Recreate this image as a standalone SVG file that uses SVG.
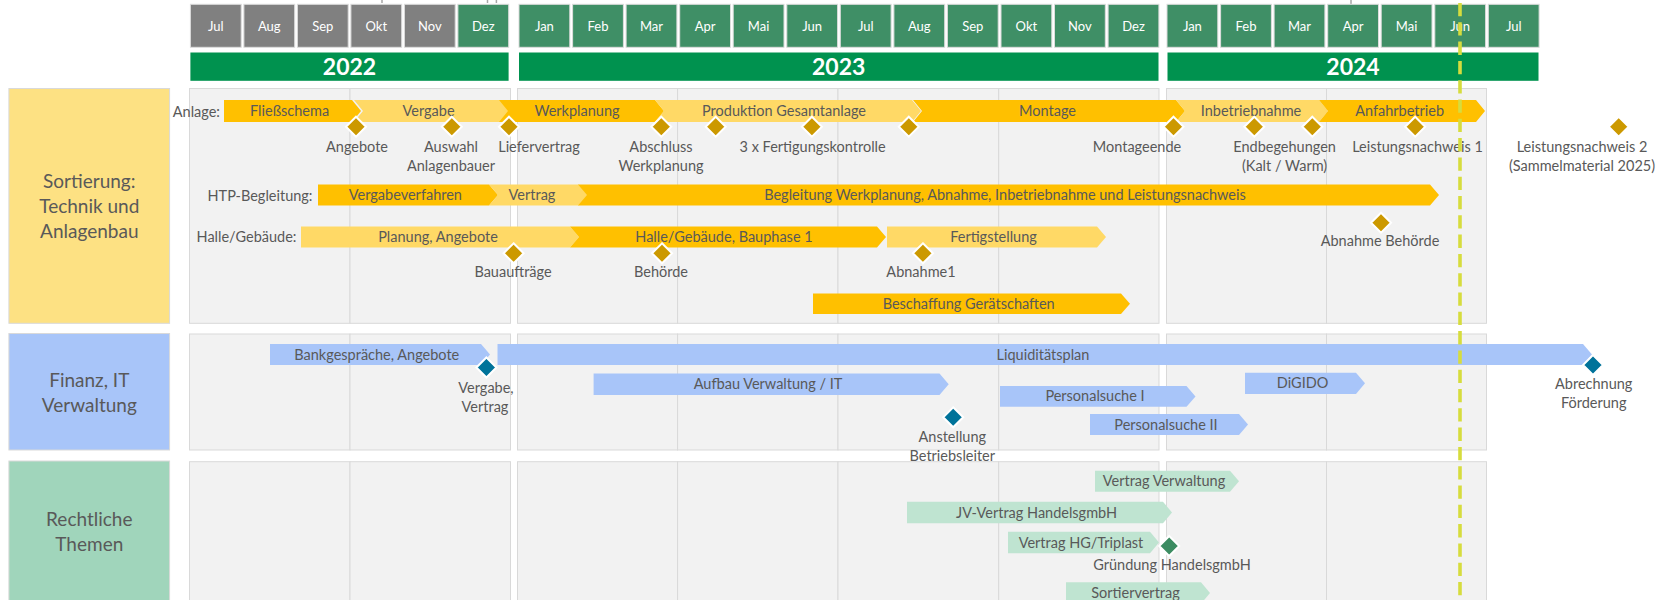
<svg xmlns="http://www.w3.org/2000/svg" xmlns:xlink="http://www.w3.org/1999/xlink" width="1676" height="600" viewBox="0 0 1676 600">
<style>
text{font-family:Lato,"Open Sans","Liberation Sans",sans-serif}
.mon{stroke:#dcdcdc;stroke-width:1}
.mg{fill:#808080}
.mgr{fill:#3f8f66}
.mt{font-size:13px;fill:#fff;text-anchor:middle}
.yr{fill:#00924f}
.yt{font-size:23px;font-weight:bold;fill:#fff;text-anchor:middle}
.pan{fill:#f2f2f2;stroke:#d9d9d9;stroke-width:1}
.dk{fill:#ffc000}
.lt{fill:#ffd966}
.bl{fill:#a8c5f9}
.gr{fill:#bfe4d1}
.t{font-size:14.5px;fill:#595959;text-anchor:middle}
.rl{font-size:14.5px;fill:#595959;text-anchor:end}
.hd{font-size:19px;fill:#595959;text-anchor:middle}
.dg{fill:#cc9900;stroke:#fff;stroke-width:2}
.db{fill:#00739a;stroke:#fff;stroke-width:2}
.dn{fill:#3c8c62;stroke:#fff;stroke-width:2}
.box{stroke:#d9d9d9;stroke-width:1}
</style>
<defs>
<polygon id="dia" points="0,-10 10,0 0,10 -10,0"/>
</defs>
<rect width="1676" height="600" fill="#fff"/>

<g id="top-ticks" stroke="#a6a6a6" stroke-width="1.5">
<line x1="382" y1="0" x2="382" y2="3"/>
<line x1="487.5" y1="0" x2="487.5" y2="3"/>
<line x1="496.4" y1="0" x2="496.4" y2="3"/>
<line x1="1351" y1="0" x2="1351" y2="4"/>
</g>

<g id="months">
<rect class="mon mg" x="190.4" y="4.3" width="50.8" height="43"/><text class="mt" x="215.8" y="30.5">Jul</text>
<rect class="mon mg" x="243.9" y="4.3" width="50.8" height="43"/><text class="mt" x="269.3" y="30.5">Aug</text>
<rect class="mon mg" x="297.4" y="4.3" width="50.8" height="43"/><text class="mt" x="322.8" y="30.5">Sep</text>
<rect class="mon mg" x="350.9" y="4.3" width="50.8" height="43"/><text class="mt" x="376.3" y="30.5">Okt</text>
<rect class="mon mg" x="404.4" y="4.3" width="50.8" height="43"/><text class="mt" x="429.8" y="30.5">Nov</text>
<rect class="mon mgr" x="457.9" y="4.3" width="50.8" height="43"/><text class="mt" x="483.3" y="30.5">Dez</text>

<rect class="mon mgr" x="519" y="4.3" width="50.8" height="43"/><text class="mt" x="544.4" y="30.5">Jan</text>
<rect class="mon mgr" x="572.6" y="4.3" width="50.8" height="43"/><text class="mt" x="598" y="30.5">Feb</text>
<rect class="mon mgr" x="626.1" y="4.3" width="50.8" height="43"/><text class="mt" x="651.5" y="30.5">Mar</text>
<rect class="mon mgr" x="679.7" y="4.3" width="50.8" height="43"/><text class="mt" x="705.1" y="30.5">Apr</text>
<rect class="mon mgr" x="733.2" y="4.3" width="50.8" height="43"/><text class="mt" x="758.6" y="30.5">Mai</text>
<rect class="mon mgr" x="786.8" y="4.3" width="50.8" height="43"/><text class="mt" x="812.2" y="30.5">Jun</text>
<rect class="mon mgr" x="840.3" y="4.3" width="50.8" height="43"/><text class="mt" x="865.7" y="30.5">Jul</text>
<rect class="mon mgr" x="893.9" y="4.3" width="50.8" height="43"/><text class="mt" x="919.3" y="30.5">Aug</text>
<rect class="mon mgr" x="947.4" y="4.3" width="50.8" height="43"/><text class="mt" x="972.8" y="30.5">Sep</text>
<rect class="mon mgr" x="1001" y="4.3" width="50.8" height="43"/><text class="mt" x="1026.4" y="30.5">Okt</text>
<rect class="mon mgr" x="1054.5" y="4.3" width="50.8" height="43"/><text class="mt" x="1079.9" y="30.5">Nov</text>
<rect class="mon mgr" x="1108.1" y="4.3" width="50.8" height="43"/><text class="mt" x="1133.5" y="30.5">Dez</text>

<rect class="mon mgr" x="1167" y="4.3" width="50.8" height="43"/><text class="mt" x="1192.4" y="30.5">Jan</text>
<rect class="mon mgr" x="1220.6" y="4.3" width="50.8" height="43"/><text class="mt" x="1246" y="30.5">Feb</text>
<rect class="mon mgr" x="1274.1" y="4.3" width="50.8" height="43"/><text class="mt" x="1299.5" y="30.5">Mar</text>
<rect class="mon mgr" x="1327.7" y="4.3" width="50.8" height="43"/><text class="mt" x="1353.1" y="30.5">Apr</text>
<rect class="mon mgr" x="1381.2" y="4.3" width="50.8" height="43"/><text class="mt" x="1406.6" y="30.5">Mai</text>
<rect class="mon mgr" x="1434.8" y="4.3" width="50.8" height="43"/><text class="mt" x="1460.2" y="30.5">Jun</text>
<rect class="mon mgr" x="1488.3" y="4.3" width="50.8" height="43"/><text class="mt" x="1513.7" y="30.5">Jul</text>
</g>

<g id="years">
<rect class="yr" x="190.4" y="52.5" width="318.2" height="28.3"/><text class="yt" x="349.5" y="75">2022</text>
<rect class="yr" x="519" y="52.5" width="639.5" height="28.3"/><text class="yt" x="838.7" y="75">2023</text>
<rect class="yr" x="1167.5" y="52.5" width="371" height="28.3"/><text class="yt" x="1353" y="75">2024</text>
</g>

<g id="panels">
<rect class="pan" x="189.5" y="88.5" width="160.5" height="234.8"/>
<rect class="pan" x="350" y="88.5" width="160.5" height="234.8"/>
<rect class="pan" x="517.5" y="88.5" width="160.1" height="234.8"/>
<rect class="pan" x="677.6" y="88.5" width="160.4" height="234.8"/>
<rect class="pan" x="838" y="88.5" width="160.7" height="234.8"/>
<rect class="pan" x="998.7" y="88.5" width="160.3" height="234.8"/>
<rect class="pan" x="1166.5" y="88.5" width="160" height="234.8"/>
<rect class="pan" x="1326.5" y="88.5" width="160" height="234.8"/>

<rect class="pan" x="189.5" y="334" width="160.5" height="116"/>
<rect class="pan" x="350" y="334" width="160.5" height="116"/>
<rect class="pan" x="517.5" y="334" width="160.1" height="116"/>
<rect class="pan" x="677.6" y="334" width="160.4" height="116"/>
<rect class="pan" x="838" y="334" width="160.7" height="116"/>
<rect class="pan" x="998.7" y="334" width="160.3" height="116"/>
<rect class="pan" x="1166.5" y="334" width="160" height="116"/>
<rect class="pan" x="1326.5" y="334" width="160" height="116"/>

<rect class="pan" x="189.5" y="461.7" width="160.5" height="150"/>
<rect class="pan" x="350" y="461.7" width="160.5" height="150"/>
<rect class="pan" x="517.5" y="461.7" width="160.1" height="150"/>
<rect class="pan" x="677.6" y="461.7" width="160.4" height="150"/>
<rect class="pan" x="838" y="461.7" width="160.7" height="150"/>
<rect class="pan" x="998.7" y="461.7" width="160.3" height="150"/>
<rect class="pan" x="1166.5" y="461.7" width="160" height="150"/>
<rect class="pan" x="1326.5" y="461.7" width="160" height="150"/>
</g>

<g id="lane-technik">
<rect class="box" x="8.9" y="88.5" width="160.7" height="234.8" fill="#fde183"/>
<text class="hd" x="89.3" y="187.8">Sortierung:</text>
<text class="hd" x="89.3" y="212.8">Technik und</text>
<text class="hd" x="89.3" y="237.8">Anlagenbau</text>
</g>
<g id="lane-finanz">
<rect class="box" x="8.9" y="333.5" width="160.7" height="116.5" fill="#a8c5f9"/>
<text class="hd" x="89.3" y="386.8">Finanz, IT</text>
<text class="hd" x="89.3" y="411.8">Verwaltung</text>
</g>
<g id="lane-recht">
<rect class="box" x="8.9" y="461" width="160.7" height="150" fill="#a0d5bb"/>
<text class="hd" x="89.3" y="526">Rechtliche</text>
<text class="hd" x="89.3" y="551">Themen</text>
</g>

<g id="row-labels">
<text class="rl" x="220" y="116.5">Anlage:</text>
<text class="rl" x="312.5" y="200.5">HTP-Begleitung:</text>
<text class="rl" x="296.5" y="242">Halle/Gebäude:</text>
</g>

<g id="anlage-bars">
<g id="fliessschema"><polygon class="dk" points="224,100 352,100 361,111 352,122 224,122"/><text class="t" x="289.6" y="116">Fließschema</text></g>
<g id="vergabe"><polygon class="lt" points="354,100 500,100 509,111 500,122 354,122 363,111"/><text class="t" x="428.6" y="116">Vergabe</text></g>
<g id="werkplanung"><polygon class="dk" points="499,100 655,100 664,111 655,122 499,122 508,111"/><text class="t" x="577" y="116">Werkplanung</text></g>
<g id="produktion"><polygon class="lt" points="655,100 912,100 921,111 912,122 655,122 664,111"/><text class="t" x="784" y="116">Produktion Gesamtanlage</text></g>
<g id="montage"><polygon class="dk" points="913,100 1176,100 1185,111 1176,122 913,122 922,111"/><text class="t" x="1047.5" y="116">Montage</text></g>
<g id="inbetriebnahme"><polygon class="lt" points="1176,100 1319,100 1328,111 1319,122 1176,122 1185,111"/><text class="t" x="1251" y="116">Inbetriebnahme</text></g>
<g id="anfahrbetrieb"><polygon class="dk" points="1319,100 1476,100 1485,111 1476,122 1319,122 1328,111"/><text class="t" x="1399.6" y="116">Anfahrbetrieb</text></g>
</g>

<g id="htp-bars">
<g id="vergabeverfahren"><polygon class="dk" points="318,184.5 489,184.5 498,195 489,205.5 318,205.5"/><text class="t" x="405.4" y="200">Vergabeverfahren</text></g>
<g id="vertrag-htp"><polygon class="lt" points="489,184.5 579,184.5 588,195 579,205.5 489,205.5 498,195"/><text class="t" x="532" y="200">Vertrag</text></g>
<g id="begleitung"><polygon class="dk" points="578,184.5 1430,184.5 1439,195 1430,205.5 578,205.5 587,195"/><text class="t" x="1005" y="200">Begleitung Werkplanung, Abnahme, Inbetriebnahme und Leistungsnachweis</text></g>
</g>

<g id="halle-bars">
<g id="planung"><polygon class="lt" points="301,226.5 570,226.5 579,237 570,247.5 301,247.5"/><text class="t" x="438" y="242">Planung, Angebote</text></g>
<g id="bauphase"><polygon class="dk" points="570,226.5 877,226.5 886,237 877,247.5 570,247.5 579,237"/><text class="t" x="724" y="242">Halle/Gebäude, Bauphase 1</text></g>
<g id="fertigstellung"><polygon class="lt" points="887,226.5 1097,226.5 1106,237 1097,247.5 887,247.5"/><text class="t" x="993.5" y="242">Fertigstellung</text></g>
<g id="beschaffung"><polygon class="dk" points="813,293.5 1121,293.5 1130,303.75 1121,314 813,314"/><text class="t" x="968.7" y="308.7">Beschaffung Gerätschaften</text></g>
</g>

<g id="technik-milestones">
<g id="ms-angebote"><use xlink:href="#dia" x="356" y="126.7" class="dg"/><text class="t" x="357" y="151.5">Angebote</text></g>
<g id="ms-auswahl"><use xlink:href="#dia" x="451.8" y="126.7" class="dg"/><text class="t" x="451" y="151.5">Auswahl</text><text class="t" x="451" y="170.5">Anlagenbauer</text></g>
<g id="ms-liefervertrag"><use xlink:href="#dia" x="509" y="126.7" class="dg"/><text class="t" x="539" y="151.5">Liefervertrag</text></g>
<g id="ms-abschluss"><use xlink:href="#dia" x="661.3" y="126.7" class="dg"/><text class="t" x="661" y="151.5">Abschluss</text><text class="t" x="661" y="170.5">Werkplanung</text></g>
<g id="ms-fertigungskontrolle"><use xlink:href="#dia" x="715.7" y="126.7" class="dg"/><use xlink:href="#dia" x="811.9" y="126.7" class="dg"/><use xlink:href="#dia" x="908.8" y="126.7" class="dg"/><text class="t" x="812.6" y="151.5">3 x Fertigungskontrolle</text></g>
<g id="ms-montageende"><use xlink:href="#dia" x="1173.5" y="126.7" class="dg"/><text class="t" x="1137" y="151.5">Montageende</text></g>
<g id="ms-endbegehungen"><use xlink:href="#dia" x="1254.3" y="126.7" class="dg"/><use xlink:href="#dia" x="1312.3" y="126.7" class="dg"/><text class="t" x="1284.6" y="151.5">Endbegehungen</text><text class="t" x="1284.6" y="170.5">(Kalt / Warm)</text></g>
<g id="ms-leistung1"><use xlink:href="#dia" x="1415.2" y="126.7" class="dg"/><text class="t" x="1417.5" y="151.5">Leistungsnachweis 1</text></g>
<g id="ms-leistung2"><use xlink:href="#dia" x="1618.7" y="126.7" class="dg"/><text class="t" x="1582" y="151.5">Leistungsnachweis 2</text><text class="t" x="1582" y="170.5">(Sammelmaterial 2025)</text></g>
<g id="ms-abnahme-behoerde"><use xlink:href="#dia" x="1381" y="222.7" class="dg"/><text class="t" x="1380" y="246">Abnahme Behörde</text></g>
<g id="ms-bauauftraege"><use xlink:href="#dia" x="513.6" y="253.3" class="dg"/><text class="t" x="513" y="277">Bauaufträge</text></g>
<g id="ms-behoerde"><use xlink:href="#dia" x="662" y="253.3" class="dg"/><text class="t" x="661" y="277">Behörde</text></g>
<g id="ms-abnahme1"><use xlink:href="#dia" x="922.9" y="253.3" class="dg"/><text class="t" x="921" y="277">Abnahme1</text></g>
</g>

<g id="finanz-bars">
<g id="bankgespraeche"><polygon class="bl" points="270,344 481,344 490,354.5 481,365 270,365"/><text class="t" x="376.8" y="359.5">Bankgespräche, Angebote</text></g>
<g id="liquiditaetsplan"><polygon class="bl" points="497.5,344 1583,344 1592,354.5 1583,365 497.5,365"/><text class="t" x="1043" y="359.5">Liquiditätsplan</text></g>
<g id="aufbau"><polygon class="bl" points="593.6,373.5 939.5,373.5 948.7,384.2 939.5,395 593.6,395"/><text class="t" x="768" y="389.2">Aufbau Verwaltung / IT</text></g>
<g id="digido"><polygon class="bl" points="1245,372.7 1356,372.7 1365,383.3 1356,394 1245,394"/><text class="t" x="1302.6" y="388.3">DiGIDO</text></g>
<g id="personal1"><polygon class="bl" points="1000,386 1186.5,386 1195.5,396.4 1186.5,406.8 1000,406.8"/><text class="t" x="1095" y="401.4">Personalsuche I</text></g>
<g id="personal2"><polygon class="bl" points="1090,414 1239,414 1248,424.5 1239,435 1090,435"/><text class="t" x="1166" y="429.5">Personalsuche II</text></g>
</g>

<g id="finanz-milestones">
<g id="ms-vergabe-vertrag"><use xlink:href="#dia" x="486.4" y="367.5" class="db"/><text class="t" x="486" y="392.5">Vergabe,</text><text class="t" x="485" y="411.5">Vertrag</text></g>
<g id="ms-anstellung"><use xlink:href="#dia" x="953.2" y="417.3" class="db"/><text class="t" x="952.3" y="442">Anstellung</text><text class="t" x="952.3" y="461">Betriebsleiter</text></g>
<g id="ms-abrechnung"><use xlink:href="#dia" x="1593" y="365" class="db"/><text class="t" x="1593.7" y="389">Abrechnung</text><text class="t" x="1593.7" y="408">Förderung</text></g>
</g>

<g id="recht-bars">
<g id="vertrag-verwaltung"><polygon class="gr" points="1095,470.7 1230,470.7 1239,481.2 1230,491.7 1095,491.7"/><text class="t" x="1164" y="486.2">Vertrag Verwaltung</text></g>
<g id="jv-vertrag"><polygon class="gr" points="907,501.7 1163,501.7 1172,512.5 1163,523.3 907,523.3"/><text class="t" x="1036.6" y="517.5">JV-Vertrag HandelsgmbH</text></g>
<g id="vertrag-hg"><polygon class="gr" points="1008,531.7 1150,531.7 1159,542.5 1150,553.3 1008,553.3"/><text class="t" x="1081" y="547.5">Vertrag HG/Triplast</text></g>
<g id="ms-gruendung"><use xlink:href="#dia" x="1169.2" y="546" class="dn"/><text class="t" x="1172" y="570">Gründung HandelsgmbH</text></g>
<g id="sortiervertrag"><polygon class="gr" points="1066,582.3 1201,582.3 1210,593 1201,603.7 1066,603.7"/><text class="t" x="1135.5" y="598">Sortiervertrag</text></g>
</g>

<g id="connectors">
<line id="today-line" x1="1460" y1="-16.3" x2="1460" y2="600" stroke="#d6dc3e" stroke-width="3.6" stroke-dasharray="13.3 6"/>
</g>
</svg>
